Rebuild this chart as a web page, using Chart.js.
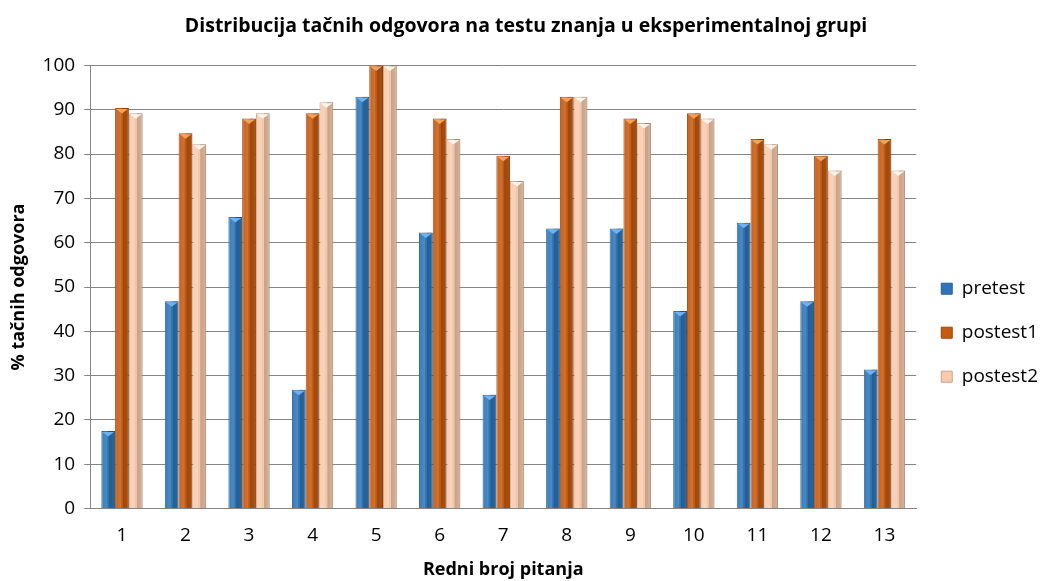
<!DOCTYPE html>
<html>
<head>
<meta charset="utf-8">
<script src="https://cdn.jsdelivr.net/npm/chart.js@4"></script>
<style>
  html, body { margin: 0; padding: 0; background: #fff; }
  #wrap { width: 1048px; height: 581px; }
</style>
</head>
<body>
<div id="wrap"><canvas id="chart"></canvas></div>
<script>
// question numbers
const questions = ['1', '2', '3', '4', '5', '6', '7', '8', '9', '10', '11', '12', '13'];

// % correct answers per test
const pretest  = [17.5, 46.8, 65.8, 26.8, 92.9, 62.3, 25.7, 63.2, 63.2, 44.6, 64.5, 46.8, 31.4];
const postest1 = [90.4, 84.7, 88.0, 89.2, 100, 88.0, 79.6, 92.9, 88.0, 89.2, 83.4, 79.6, 83.4];
const postest2 = [89.2, 82.2, 89.2, 91.7, 100, 83.4, 73.9, 92.9, 87.0, 88.0, 82.2, 76.3, 76.3];

const yTicks = [0, 10, 20, 30, 40, 50, 60, 70, 80, 90, 100];

const fontFamily = '"Open Sans", sans-serif';

// lighter bevel colour on top of each bar, per dataset
const bevelColors = ['#6db3f2', '#f7a05a', '#fff4ea'];

// gives the bars a bit of the 3D look of the original
const barShading = {
    id: 'barShading',
    afterDatasetsDraw(chart) {
        const c = chart.ctx;
        chart.data.datasets.forEach((ds, di) => {
            const meta = chart.getDatasetMeta(di);
            meta.data.forEach(bar => {
                const { x, y, base, width } = bar.getProps(['x', 'y', 'base', 'width'], true);
                const left = x - width / 2;
                const g = c.createLinearGradient(left, 0, left + width, 0);
                g.addColorStop(0, 'rgba(255,255,255,0.05)');
                g.addColorStop(0.4, 'rgba(255,255,255,0.15)');
                g.addColorStop(0.55, 'rgba(0,0,0,0)');
                g.addColorStop(0.6, 'rgba(0,0,0,0.2)');
                g.addColorStop(1, 'rgba(0,0,0,0.12)');
                c.save();
                c.fillStyle = g;
                c.fillRect(left, y, width, base - y);
                c.fillStyle = bevelColors[di];
                c.beginPath();
                c.moveTo(left + 1, y + 1);
                c.lineTo(left + width - 1, y + 1);
                c.lineTo(x, y + width * 0.4);
                c.closePath();
                c.fill();
                c.restore();
            });
        });
    }
};

const ctx = document.getElementById('chart').getContext('2d');
new Chart(ctx, {
    type: 'bar',
    data: {
        labels: questions,
        datasets: [{
            label: 'pretest',
            data: pretest,
            backgroundColor: '#2e75b6',
            borderColor: '#24609a',
            borderWidth: 1
        }, {
            label: 'postest1',
            data: postest1,
            backgroundColor: '#c55a11',
            borderColor: '#a0460a',
            borderWidth: 1
        }, {
            label: 'postest2',
            data: postest2,
            backgroundColor: '#f8cbad',
            borderColor: '#c9a58c',
            borderWidth: 1
        }]
    },
    options: {
        responsive: true,
        maintainAspectRatio: false,
        animation: false,
        categoryPercentage: 0.65,
        barPercentage: 1,
        layout: {
            padding: { top: 4, right: 0, bottom: 0, left: 4 }
        },
        plugins: {
            title: {
                display: true,
                text: 'Distribucija tačnih odgovora na testu znanja u eksperimentalnoj grupi',
                color: '#000',
                font: { family: fontFamily, size: 19.5, weight: 'bold' },
                padding: { top: 11, bottom: 27 }
            },
            legend: {
                position: 'right',
                title: {
                    display: true,
                    text: '',
                    font: { size: 12 },
                    padding: 33
                },
                labels: {
                    color: '#000',
                    boxWidth: 11,
                    boxHeight: 11,
                    padding: 25,
                    font: { family: fontFamily, size: 19 }
                }
            },
            tooltip: { enabled: false }
        },
        scales: {
            x: {
                grid: { display: false },
                border: { color: '#868686' },
                ticks: { color: '#000', padding: 8, font: { family: fontFamily, size: 19 } },
                title: {
                    display: true,
                    text: 'Redni broj pitanja',
                    color: '#000',
                    font: { family: fontFamily, size: 18, weight: 'bold' },
                    padding: { top: 4, bottom: 0 }
                }
            },
            y: {
                min: 0,
                max: 100,
                afterBuildTicks: axis => {
                    axis.ticks = yTicks.map(v => ({ value: v }));
                },
                grid: { color: '#868686', drawTicks: true, tickLength: 6 },
                border: { color: '#868686' },
                ticks: { color: '#000', padding: 9, font: { family: fontFamily, size: 19 } },
                title: {
                    display: true,
                    text: '% tačnih odgovora',
                    color: '#000',
                    font: { family: fontFamily, size: 18, weight: 'bold' },
                    padding: { bottom: 4 }
                }
            }
        }
    },
    plugins: [barShading]
});
</script>
</body>
</html>
